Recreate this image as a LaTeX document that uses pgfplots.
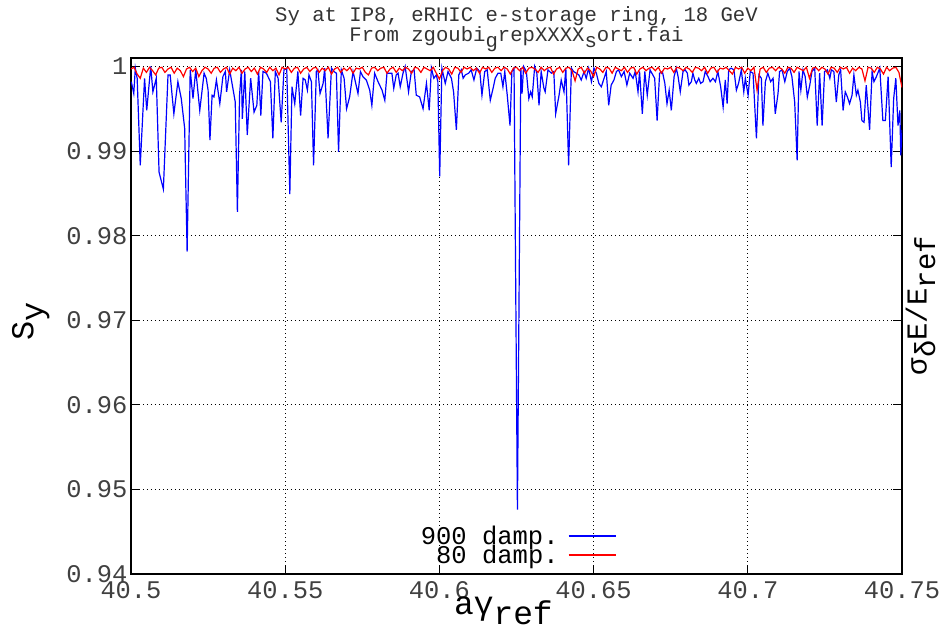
\documentclass[border=0pt]{standalone}
\usepackage{pgfplots}
\pgfplotsset{compat=1.18}
\usepackage{pgfplotstable}
\usepackage{fontspec}
\setmainfont{Liberation Mono}
\definecolor{gblue}{RGB}{0,0,255}
\definecolor{gred}{RGB}{255,0,0}
\newcommand\gsub[1]{\raisebox{-0.3em}{#1}}
\pgfplotstableread{
x y
40.5001 0.9982
40.5009 0.9968
40.5014 0.9998
40.5020 0.9986
40.5030 0.9883
40.5044 0.9986
40.5051 0.9948
40.5064 1.0000
40.5071 0.9970
40.5082 0.9986
40.5091 0.9875
40.5105 0.9855
40.5120 0.9990
40.5127 0.9990
40.5139 0.9944
40.5152 0.9982
40.5163 0.9962
40.5174 0.9927
40.5182 0.9781
40.5192 0.9996
40.5201 0.9962
40.5210 0.9996
40.5223 0.9948
40.5237 0.9992
40.5244 0.9986
40.5250 0.9972
40.5256 0.9913
40.5263 0.9966
40.5269 0.9964
40.5277 0.9984
40.5288 0.9956
40.5298 0.9988
40.5306 0.9994
40.5310 0.9970
40.5320 0.9996
40.5338 0.9958
40.5345 0.9828
40.5352 0.9966
40.5358 0.9996
40.5361 0.9938
40.5369 0.9994
40.5377 0.9919
40.5388 0.9986
40.5399 0.9946
40.5408 0.9954
40.5414 0.9994
40.5421 0.9942
40.5428 0.9994
40.5439 0.9992
40.5452 0.9982
40.5460 0.9915
40.5468 0.9994
40.5477 0.9986
40.5487 0.9934
40.5496 0.9996
40.5505 0.9998
40.5515 0.9849
40.5522 0.9976
40.5531 0.9956
40.5541 0.9994
40.5550 0.9942
40.5558 0.9986
40.5565 0.9984
40.5572 0.9972
40.5577 0.9990
40.5585 0.9982
40.5592 0.9883
40.5601 0.9994
40.5606 0.9996
40.5613 0.9968
40.5623 0.9980
40.5628 0.9998
40.5639 0.9915
40.5650 0.9998
40.5658 0.9994
40.5666 0.9992
40.5673 0.9899
40.5682 0.9996
40.5691 0.9986
40.5699 0.9950
40.5709 0.9964
40.5720 0.9994
40.5725 0.9986
40.5736 0.9968
40.5744 0.9994
40.5752 0.9988
40.5763 0.9984
40.5774 0.9972
40.5781 0.9954
40.5790 0.9992
40.5801 0.9982
40.5814 0.9972
40.5823 0.9960
40.5830 0.9992
40.5840 0.9992
40.5846 0.9992
40.5852 0.9974
40.5860 0.9990
40.5866 0.9992
40.5873 0.9976
40.5882 0.9992
40.5889 1.0000
40.5900 0.9970
40.5909 0.9994
40.5918 0.9996
40.5925 0.9966
40.5936 0.9964
40.5947 0.9950
40.5958 0.9980
40.5967 0.9948
40.5974 0.9998
40.5982 0.9986
40.5990 0.9990
40.5995 0.9982
40.6001 0.9870
40.6008 0.9998
40.6019 0.9980
40.6028 0.9994
40.6039 0.9986
40.6046 0.9970
40.6055 0.9925
40.6063 0.9990
40.6071 0.9996
40.6077 0.9986
40.6084 0.9990
40.6095 0.9992
40.6103 0.9996
40.6112 0.9984
40.6121 0.9998
40.6131 0.9994
40.6138 0.9966
40.6147 0.9994
40.6155 0.9996
40.6165 0.9960
40.6174 0.9974
40.6181 0.9986
40.6190 0.9992
40.6199 0.9992
40.6206 0.9976
40.6212 0.9994
40.6220 0.9966
40.6229 0.9930
40.6235 0.9994
40.6242 0.9998
40.6253 0.9476
40.6264 0.9998
40.6268 0.9968
40.6273 1.0000
40.6282 0.9994
40.6290 0.9962
40.6296 0.9970
40.6301 0.9964
40.6309 1.0000
40.6316 0.9992
40.6323 0.9954
40.6330 0.9994
40.6339 0.9974
40.6343 0.9970
40.6352 0.9996
40.6363 0.9992
40.6371 0.9994
40.6377 0.9944
40.6388 0.9966
40.6395 0.9984
40.6404 0.9970
40.6410 0.9998
40.6419 0.9883
40.6428 0.9998
40.6435 0.9994
40.6444 0.9992
40.6452 0.9990
40.6460 0.9984
40.6469 0.9994
40.6476 0.9986
40.6484 0.9998
40.6493 0.9982
40.6501 0.9998
40.6509 0.9992
40.6517 0.9980
40.6525 0.9976
40.6534 0.9986
40.6541 0.9994
40.6549 0.9954
40.6557 0.9978
40.6566 0.9984
40.6574 0.9994
40.6581 0.9996
40.6590 0.9988
40.6599 0.9994
40.6608 0.9978
40.6617 0.9992
40.6628 0.9986
40.6635 0.9994
40.6644 0.9970
40.6649 0.9994
40.6658 0.9944
40.6666 0.9994
40.6674 0.9966
40.6683 0.9996
40.6689 0.9992
40.6698 0.9986
40.6706 0.9936
40.6714 0.9992
40.6723 0.9994
40.6731 0.9980
40.6738 0.9956
40.6745 0.9972
40.6752 0.9948
40.6761 0.9988
40.6768 0.9998
40.6774 0.9988
40.6781 0.9970
40.6790 0.9994
40.6797 0.9996
40.6804 0.9992
40.6809 0.9978
40.6817 0.9982
40.6822 0.9992
40.6828 0.9984
40.6833 0.9980
40.6841 0.9986
40.6847 0.9980
40.6855 0.9982
40.6862 0.9994
40.6871 0.9988
40.6878 0.9982
40.6887 0.9986
40.6895 0.9982
40.6903 0.9994
40.6912 0.9976
40.6920 0.9952
40.6927 0.9984
40.6933 0.9956
40.6938 0.9996
40.6946 0.9998
40.6955 0.9996
40.6963 0.9972
40.6970 0.9980
40.6979 0.9996
40.6987 0.9970
40.6992 0.9986
40.7001 0.9966
40.7008 0.9994
40.7017 0.9992
40.7028 0.9915
40.7036 0.9990
40.7044 0.9986
40.7049 0.9930
40.7057 0.9982
40.7065 0.9992
40.7074 0.9982
40.7082 0.9986
40.7089 0.9944
40.7098 0.9968
40.7103 0.9994
40.7111 0.9996
40.7120 0.9982
40.7128 0.9994
40.7136 0.9998
40.7143 0.9988
40.7152 0.9958
40.7160 0.9889
40.7166 0.9994
40.7172 0.9972
40.7179 0.9996
40.7186 0.9988
40.7193 0.9964
40.7201 0.9978
40.7208 0.9994
40.7217 0.9998
40.7225 0.9930
40.7233 0.9992
40.7241 0.9930
40.7249 0.9994
40.7258 0.9996
40.7266 0.9986
40.7271 0.9996
40.7279 0.9994
40.7287 0.9958
40.7295 0.9990
40.7301 0.9996
40.7309 0.9948
40.7316 0.9970
40.7323 0.9964
40.7330 0.9956
40.7338 0.9966
40.7344 0.9990
40.7352 0.9966
40.7357 0.9972
40.7365 0.9958
40.7370 0.9936
40.7377 0.9934
40.7384 0.9978
40.7395 0.9925
40.7403 0.9994
40.7409 0.9982
40.7417 0.9988
40.7428 0.9998
40.7438 0.9936
40.7446 0.9936
40.7455 0.9988
40.7465 0.9881
40.7473 0.9962
40.7480 0.9986
40.7487 0.9930
40.7493 0.9948
40.7496 0.9895
40.7500 0.9925
}\bluedata
\pgfplotstableread{
x y
40.500 0.9997
40.501 0.9999
40.502 0.9991
40.503 0.9986
40.504 0.9998
40.505 0.9993
40.506 0.9999
40.507 0.9995
40.508 0.9990
40.509 0.9998
40.510 0.9999
40.511 0.9993
40.512 0.9997
40.513 0.9999
40.514 0.9992
40.515 0.9998
40.516 0.9995
40.517 0.9988
40.518 0.9997
40.519 0.9999
40.520 0.9994
40.521 0.9998
40.522 0.9988
40.523 0.9995
40.524 0.9999
40.525 0.9997
40.526 0.9992
40.527 0.9998
40.528 0.9999
40.529 0.9993
40.530 0.9997
40.531 0.9999
40.532 0.9991
40.533 0.9998
40.534 0.9995
40.535 0.9999
40.536 0.9992
40.537 0.9997
40.538 0.9999
40.539 0.9994
40.540 0.9998
40.541 0.9991
40.542 0.9999
40.543 0.9997
40.544 0.9993
40.545 0.9999
40.546 0.9995
40.547 0.9998
40.548 0.9990
40.549 0.9999
40.550 0.9997
40.551 0.9999
40.552 0.9993
40.553 0.9998
40.554 0.9999
40.555 0.9992
40.556 0.9997
40.557 0.9999
40.558 0.9994
40.559 0.9998
40.560 0.9999
40.561 0.9993
40.562 0.9998
40.563 0.9995
40.564 0.9999
40.565 0.9991
40.566 0.9997
40.567 0.9999
40.568 0.9993
40.569 0.9998
40.570 0.9995
40.571 0.9999
40.572 0.9992
40.573 0.9998
40.574 0.9997
40.575 0.9999
40.576 0.9993
40.577 0.9990
40.578 0.9998
40.579 0.9999
40.580 0.9995
40.581 0.9998
40.582 0.9999
40.583 0.9992
40.584 0.9997
40.585 0.9999
40.586 0.9993
40.587 0.9998
40.588 0.9995
40.589 0.9999
40.590 0.9997
40.591 0.9992
40.592 0.9999
40.593 0.9998
40.594 0.9993
40.595 0.9999
40.596 0.9997
40.597 0.9995
40.598 0.9999
40.599 0.9992
40.600 0.9985
40.601 0.9995
40.602 0.9999
40.603 0.9997
40.604 0.9991
40.605 0.9999
40.606 0.9998
40.607 0.9993
40.608 0.9999
40.609 0.9997
40.610 0.9999
40.611 0.9995
40.612 0.9998
40.613 0.9992
40.614 0.9999
40.615 0.9997
40.616 0.9999
40.617 0.9993
40.618 0.9998
40.619 0.9999
40.620 0.9995
40.621 0.9999
40.622 0.9997
40.623 0.9991
40.624 0.9998
40.625 0.9999
40.626 0.9995
40.627 0.9999
40.628 0.9992
40.629 0.9998
40.630 0.9999
40.631 0.9997
40.632 0.9993
40.633 0.9999
40.634 0.9995
40.635 0.9998
40.636 0.9999
40.637 0.9991
40.638 0.9997
40.639 0.9999
40.640 0.9993
40.641 0.9998
40.642 0.9999
40.643 0.9995
40.644 0.9983
40.645 0.9997
40.646 0.9999
40.647 0.9992
40.648 0.9998
40.649 0.9995
40.650 0.9988
40.651 0.9999
40.652 0.9997
40.653 0.9993
40.654 0.9999
40.655 0.9998
40.656 0.9992
40.657 0.9999
40.658 0.9997
40.659 0.9995
40.660 0.9999
40.661 0.9993
40.662 0.9998
40.663 0.9999
40.664 0.9991
40.665 0.9997
40.666 0.9999
40.667 0.9995
40.668 0.9998
40.669 0.9999
40.670 0.9995
40.671 0.9999
40.672 0.9992
40.673 0.9998
40.674 0.9997
40.675 0.9999
40.676 0.9993
40.677 0.9999
40.678 0.9998
40.679 0.9995
40.680 0.9999
40.681 0.9997
40.682 0.9993
40.683 0.9999
40.684 0.9998
40.685 0.9995
40.686 0.9999
40.687 0.9992
40.688 0.9998
40.689 0.9999
40.690 0.9993
40.691 0.9998
40.692 0.9997
40.693 0.9999
40.694 0.9995
40.695 0.9991
40.696 0.9999
40.697 0.9997
40.698 0.9999
40.699 0.9992
40.700 0.9998
40.701 0.9995
40.702 0.9999
40.703 0.9972
40.704 0.9997
40.705 0.9999
40.706 0.9993
40.707 0.9998
40.708 0.9999
40.709 0.9995
40.710 0.9999
40.711 0.9997
40.712 0.9992
40.713 0.9999
40.714 0.9998
40.715 0.9993
40.716 0.9999
40.717 0.9997
40.718 0.9995
40.719 0.9999
40.720 0.9986
40.721 0.9998
40.722 0.9999
40.723 0.9995
40.724 0.9999
40.725 0.9997
40.726 0.9991
40.727 0.9999
40.728 0.9998
40.729 0.9993
40.730 0.9999
40.731 0.9997
40.732 0.9999
40.733 0.9992
40.734 0.9998
40.735 0.9995
40.736 0.9999
40.737 0.9997
40.738 0.9983
40.739 0.9999
40.740 0.9998
40.741 0.9993
40.742 0.9999
40.743 0.9997
40.744 0.9991
40.745 0.9999
40.746 0.9995
40.747 0.9998
40.748 0.9999
40.749 0.9993
40.750 0.9975
}\reddata
\begin{document}
\begin{tikzpicture}
\begin{axis}[
  scale only axis,
  width=771bp, height=516bp,
  xmin=40.5, xmax=40.75,
  ymin=0.94, ymax=1.001,
  xtick={40.5,40.55,40.6,40.65,40.7,40.75},
  xticklabels={40.5,40.55,40.6,40.65,40.7,40.75},
  ytick={0.94,0.95,0.96,0.97,0.98,0.99,1},
  yticklabels={0.94,0.95,0.96,0.97,0.98,0.99,1},
  tick align=inside,
  major tick length=9bp,
  tick style={black, line width=0.8bp},
  axis line style={line width=1.5bp},
  grid=major,
  major grid style={black, line width=0.7bp, dash pattern=on 1bp off 3bp},
  ticklabel style={font=\fontsize{25.5}{25.5}\selectfont, text=black!75},
  xticklabel style={yshift=-4bp},
  xlabel={aγ\gsub{ref}},
  xlabel style={font=\fontsize{33}{33}\selectfont, at={(axis description cs:0.483,-0.072)}, anchor=center},
  ylabel={S\gsub{y}},
  ylabel style={font=\fontsize{32}{32}\selectfont, at={(axis description cs:-0.130,0.49)}, anchor=center},
  title={Sy at IP8, eRHIC e-storage ring, 18 GeV\\From zgoubi\gsub{g}repXXXX\gsub{s}ort.fai},
  title style={font=\fontsize{20.7}{20}\selectfont, align=center, at={(axis description cs:0.5,1.045)}, anchor=center, text=black!80},
  legend plot pos=right,
  legend cell align=right,
  legend image code/.code={\draw[line width=2bp, #1] (0bp,0bp) -- (47bp,0bp);},
  legend style={at={(axis description cs:0.634,0.012)}, anchor=south east, draw=none, fill=none,
    font=\fontsize{25.6}{25.6}\selectfont, row sep=-3bp, column sep=8bp,
    nodes={inner sep=1bp}},
  after end axis/.code={
    \node[rotate=90, anchor=center, font=\fontsize{29}{29}\selectfont] at (axis description cs:1.024,0.52)
      {σ\gsub{δ}E/E\gsub{ref}};
  },
]
\addplot[draw=gblue, line width=1.2bp, forget plot] table[x=x,y=y] {\bluedata};
\addplot[draw=gred, line width=1.2bp, forget plot] table[x=x,y=y] {\reddata};
\addlegendimage{draw=gblue}
\addlegendentry{900 damp.}
\addlegendimage{draw=gred}
\addlegendentry{80 damp.}
\end{axis}
\pgfresetboundingbox
\path ([shift={(-131bp,-56bp)}]current axis.south west) rectangle ([shift={(39bp,58bp)}]current axis.north east);
\end{tikzpicture}
\end{document}
